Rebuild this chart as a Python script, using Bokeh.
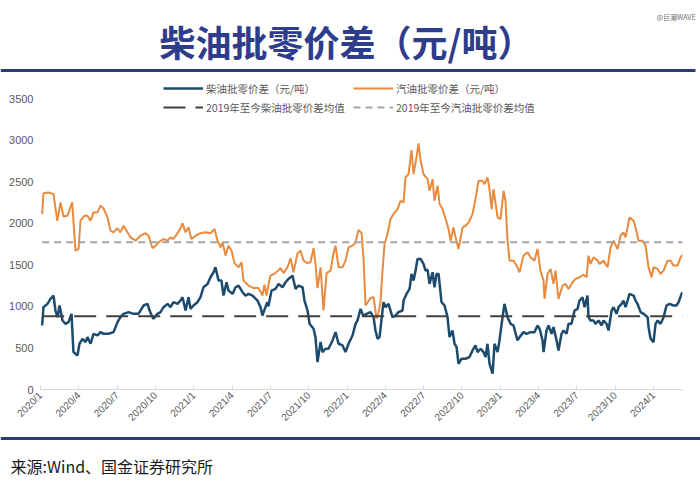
import math
from bokeh.plotting import figure
from bokeh.models import FixedTicker, Legend, LegendItem, Range1d
from bokeh.layouts import column
from bokeh.embed import file_html
from bokeh.resources import INLINE
from bokeh.core.properties import value

TITLE = "柴油批零价差（元/吨）"
SOURCE = "来源:Wind、国金证券研究所"
WATERMARK = "@巨潮WAVE"

tick_months = [0, 3, 6, 9, 12, 15, 18, 21, 24, 27, 30, 33, 36, 39, 42, 45, 48]
tick_labels = ["2020/1", "2020/4", "2020/7", "2020/10", "2021/1", "2021/4", "2021/7", "2021/10",
               "2022/1", "2022/4", "2022/7", "2022/10", "2023/1", "2023/4", "2023/7", "2023/10", "2024/1"]
y_ticks = [0, 500, 1000, 1500, 2000, 2500, 3000, 3500]

diesel_name = "柴油批零价差（元/吨）"
gas_name = "汽油批零价差（元/吨）"
diesel_mean_name = "2019年至今柴油批零价差均值"
gas_mean_name = "2019年至今汽油批零价差均值"
diesel_mean = 880
gas_mean = 1770

# time in months since 2020/1
gas_t = [0.13, 0.23, 0.63, 1.02, 1.31, 1.57, 1.80, 2.11, 2.48, 2.74, 2.98, 3.13, 3.45, 3.68, 3.92, 4.15,
         4.46, 4.70, 4.93, 5.25, 5.48, 5.72, 6.03, 6.26, 6.50, 6.81, 7.05, 7.44, 7.83, 8.22, 8.46, 8.77,
         9.01, 9.24, 9.63, 9.95, 10.18, 10.41, 10.73, 10.96, 11.12, 11.36, 11.59, 11.82, 12.14, 12.53,
         12.92, 13.31, 13.63, 13.86, 14.10, 14.25, 14.49, 14.72, 14.96, 15.19, 15.51, 15.74, 15.90, 16.29,
         16.68, 17.07, 17.38, 17.54, 17.70, 17.85, 18.01, 18.40, 18.79, 19.03, 19.34, 19.58, 19.81, 20.13,
         20.36, 20.60, 20.91, 21.14, 21.38, 21.53, 21.69, 21.93, 22.16, 22.40, 22.71, 22.94, 23.10, 23.34,
         23.65, 23.88, 24.12, 24.43, 24.67, 24.90, 25.14, 25.29, 25.45, 25.84, 26.08, 26.31, 26.47, 26.62,
         26.78, 26.94, 27.17, 27.41, 27.64, 27.96, 28.19, 28.43, 28.58, 28.82, 29.05, 29.21, 29.44, 29.60,
         29.76, 29.99, 30.31, 30.46, 30.70, 30.85, 31.09, 31.25, 31.48, 31.72, 31.95, 32.11, 32.34, 32.50,
         32.73, 33.05, 33.28, 33.52, 33.83, 34.06, 34.30, 34.61, 34.77, 35.00, 35.16, 35.32, 35.47, 35.79,
         36.02, 36.26, 36.41, 36.57, 36.73, 37.04, 37.35, 37.51, 37.82, 38.14, 38.37, 38.68, 38.92, 39.15,
         39.39, 39.47, 39.70, 39.94, 40.17, 40.33, 40.56, 40.88, 41.11, 41.35, 41.66, 41.90, 42.21, 42.52,
         42.76, 42.91, 43.07, 43.30, 43.62, 43.77, 44.09, 44.40, 44.64, 44.87, 45.19, 45.42, 45.65, 45.81,
         45.97, 46.12, 46.44, 46.59, 46.83, 47.14, 47.38, 47.61, 47.85, 48.00, 48.32, 48.55, 48.79, 49.10,
         49.33, 49.57, 49.88, 50.12, 50.27]
gas_v = [2110, 2360, 2370, 2350, 2030, 2250, 2080, 2090, 2250, 1670, 1690, 2030, 2090, 2090, 2030, 2130,
         2130, 2210, 2180, 2070, 1910, 1890, 1940, 1890, 1970, 1890, 1830, 1790, 1850, 1880, 1850, 1700,
         1730, 1770, 1810, 1790, 1830, 1810, 1880, 1940, 2000, 1890, 1950, 1810, 1850, 1880,
         1890, 1880, 1930, 1790, 1710, 1770, 1610, 1730, 1670, 1520, 1470, 1530, 1310, 1250,
         1220, 1220, 1130, 1260, 1130, 1260, 1370, 1400, 1460, 1400, 1470, 1580, 1410, 1640,
         1670, 1550, 1520, 1530, 1700, 1520, 1220, 1470, 950, 1400, 1430, 1640, 1730, 1470,
         1470, 1550, 1710, 1730, 1770, 1920, 1880, 1590, 1010, 1100, 1110, 850, 930, 1050,
         1430, 1750, 1870, 2050, 2110, 2170, 2270, 2250, 2550, 2590, 2880, 2590, 2790, 2960,
         2760, 2590, 2530, 2390, 2530, 2270, 2450, 2230, 2170, 2050, 1930, 1790, 1950, 1830,
         1690, 1950, 1970, 2010, 2110, 2290, 2510, 2510, 2470, 2550, 2410, 2170, 2410, 2070,
         2050, 2390, 2270, 1790, 1550, 1550, 1470, 1410, 1610, 1650, 1590, 1550, 1690, 1430,
         1310, 1090, 1390, 1450, 1270, 1430, 1090, 1250, 1270, 1210, 1290, 1330, 1350, 1380,
         1350, 1610, 1510, 1590, 1550, 1510, 1550, 1470, 1710, 1790, 1690, 1850, 1890, 1830,
         1950, 2070, 2030, 1950, 1790, 1790, 1730, 1470, 1350, 1470, 1450, 1390, 1430, 1550,
         1550, 1490, 1490, 1590, 1620]

diesel_t = [0.13, 0.23, 0.55, 0.78, 1.02, 1.17, 1.33, 1.49, 1.72, 1.96, 2.19, 2.43, 2.58, 2.90, 3.05, 3.29,
            3.52, 3.68, 3.92, 4.15, 4.46, 4.70, 4.93, 5.32, 5.72, 6.03, 6.26, 6.50, 6.89, 7.28, 7.67, 8.07,
            8.38, 8.54, 8.77, 8.85, 9.16, 9.40, 9.63, 9.95, 10.18, 10.41, 10.73, 10.96, 11.12, 11.36, 11.59,
            11.75, 11.98, 12.29, 12.53, 12.76, 13.08, 13.31, 13.55, 13.70, 13.94, 14.17, 14.33, 14.57, 14.72,
            15.04, 15.27, 15.51, 15.82, 16.05, 16.29, 16.60, 16.99, 17.23, 17.38, 17.54, 17.76, 17.85, 18.09,
            18.40, 18.64, 18.95, 19.19, 19.42, 19.73, 19.97, 20.20, 20.52, 20.67, 20.91, 21.07, 21.38, 21.53,
            21.69, 21.93, 22.08, 22.32, 22.55, 22.87, 23.10, 23.34, 23.65, 23.88, 24.12, 24.43, 24.67, 24.82,
            25.06, 25.29, 25.53, 25.84, 26.08, 26.23, 26.39, 26.55, 26.78, 26.86, 27.02, 27.25, 27.56, 27.80,
            28.03, 28.35, 28.43, 28.66, 28.90, 29.05, 29.21, 29.37, 29.52, 29.76, 29.99, 30.15, 30.31, 30.46,
            30.70, 30.85, 31.01, 31.17, 31.40, 31.64, 31.87, 32.03, 32.26, 32.42, 32.58, 32.73, 32.97, 33.28,
            33.59, 33.83, 34.06, 34.22, 34.46, 34.69, 34.85, 35.00, 35.16, 35.40, 35.55, 35.79, 35.94, 36.18,
            36.33, 36.57, 36.81, 37.04, 37.35, 37.51, 37.82, 38.06, 38.37, 38.68, 38.92, 39.08, 39.31, 39.39,
            39.62, 39.78, 40.02, 40.17, 40.41, 40.56, 40.80, 40.96, 41.19, 41.35, 41.58, 41.82, 42.05, 42.21,
            42.44, 42.60, 42.83, 42.91, 43.07, 43.30, 43.46, 43.70, 43.93, 44.09, 44.32, 44.48, 44.72, 44.87,
            45.11, 45.26, 45.50, 45.65, 45.81, 45.97, 46.12, 46.44, 46.59, 46.75, 46.99, 47.22, 47.54, 47.61,
            47.77, 48.00, 48.16, 48.32, 48.55, 48.79, 49.02, 49.26, 49.57, 49.80, 49.96, 50.20, 50.27]
diesel_v = [770, 990, 1030, 1090, 1130, 950, 870, 1010, 830, 790, 810, 910, 450, 410, 550, 610,
            570, 630, 550, 670, 650, 690, 670, 670, 690, 810, 870, 910, 930, 910, 910, 1010,
            1030, 950, 870, 850, 910, 930, 990, 1030, 990, 1050, 1030, 1070, 1110, 950, 1110,
            970, 1010, 1050, 1110, 1230, 1270, 1350, 1410, 1470, 1310, 1310, 1130, 1290, 1190,
            1150, 1230, 1250, 1170, 1130, 1150, 1130, 1070, 990, 890, 960, 1050, 1000, 1190,
            1210, 1270, 1230, 1290, 1330, 1370, 1210, 1250, 1230, 1070, 950, 790, 730, 630,
            330, 570, 450, 490, 490, 590, 690, 550, 530, 450, 550, 650, 790, 830,
            970, 880, 910, 930, 870, 710, 610, 630, 950, 1050, 990, 1030, 870, 890,
            930, 950, 1070, 1150, 1210, 1390, 1310, 1430, 1570, 1570, 1510, 1430, 1440, 1270,
            1410, 1230, 1390, 1390, 1050, 1010, 870, 630, 710, 550, 510, 310, 370, 370,
            390, 470, 530, 450, 490, 450, 390, 550, 310, 190, 550, 450, 590, 870,
            1030, 870, 790, 770, 590, 630, 690, 670, 690, 690, 770, 730, 590, 450,
            710, 770, 670, 750, 590, 470, 670, 710, 670, 790, 790, 950, 970, 1070,
            1110, 990, 1130, 870, 830, 830, 790, 830, 770, 830, 790, 710, 950, 990,
            910, 990, 1030, 1070, 990, 1070, 1150, 1130, 1070, 1030, 930, 910, 870, 750,
            610, 570, 790, 830, 790, 870, 1010, 1030, 1010, 1010, 1050, 1150, 1170]

W = 700
CJK = "Noto Sans CJK SC"
RULE_COLOR = "#2B3A78"

# ---------------- header (page y 0..72) ----------------
HDR_H = 72
hdr = figure(width=W, height=HDR_H, x_range=Range1d(0, W), y_range=Range1d(HDR_H, 0),
             output_backend="svg", toolbar_location=None, min_border=0, frame_align=False)
hdr.axis.visible = False
hdr.grid.visible = False
hdr.outline_line_color = None
hdr.text(x=[346], y=[40], text=[TITLE], text_align="center", text_baseline="middle",
         text_font=value(CJK), text_font_size="36px", text_font_style="bold", text_color="#2E3C8C")
hdr.text(x=[695], y=[16], text=[WATERMARK], text_align="right", text_baseline="middle",
         text_font=value(CJK), text_font_size="7px", text_color="#6F6F6F")
hdr.segment(x0=[0], y0=[70], x1=[695], y1=[70], line_color=RULE_COLOR, line_width=3)

# ---------------- chart (page y 72..436) ----------------
CH_H = 364
frame_h = 309
y_top = 3500 * frame_h / 291.0
p = figure(width=W, height=CH_H, x_range=Range1d(0, diesel_t[-1]), y_range=Range1d(0, y_top),
           output_backend="svg", toolbar_location=None, frame_align=False,
           min_border_left=40, min_border_right=18, min_border_top=8, min_border_bottom=47)
p.grid.visible = False
p.outline_line_color = None

r_d = p.line(diesel_t, diesel_v, line_color="#1D4B6E", line_width=2.5)
r_g = p.line(gas_t, gas_v, line_color="#E98A3D", line_width=2)
span_x = [diesel_t[0], diesel_t[-1]]
r_dm = p.line(span_x, [diesel_mean, diesel_mean], line_color="#404040", line_width=2, line_dash="22 10")
r_gm = p.line(span_x, [gas_mean, gas_mean], line_color="#A6A6A6", line_width=2, line_dash="7 5")

p.xaxis.ticker = FixedTicker(ticks=tick_months)
p.xaxis.major_label_overrides = {m: lab for m, lab in zip(tick_months, tick_labels)}
p.xaxis.major_label_orientation = math.pi / 4
p.xaxis.axis_line_color = "#D9D9D9"
p.xaxis.major_tick_line_color = "#D9D9D9"
p.xaxis.major_tick_in = 4
p.xaxis.major_tick_out = 0
p.xaxis.minor_tick_line_color = None
p.xaxis.major_label_text_font = "Liberation Sans"
p.xaxis.major_label_text_font_size = "10px"
p.xaxis.major_label_text_color = "#595959"
p.xaxis.major_label_standoff = 4

p.yaxis.ticker = FixedTicker(ticks=y_ticks)
p.yaxis.axis_line_color = None
p.yaxis.major_tick_line_color = None
p.yaxis.minor_tick_line_color = None
p.yaxis.major_tick_in = 0
p.yaxis.major_tick_out = 0
p.yaxis.major_label_standoff = 7
p.yaxis.major_label_text_font = "Liberation Sans"
p.yaxis.major_label_text_font_size = "11px"
p.yaxis.major_label_text_color = "#595959"

LEG_H = 35


def make_legend(items, x):
    return Legend(items=items, location=(x, frame_h - LEG_H), orientation="vertical",
                  glyph_width=40, glyph_height=12, label_height=16, label_standoff=3,
                  spacing=3, padding=0, margin=0, border_line_color=None,
                  background_fill_alpha=0, label_text_font=CJK, label_text_font_size="10.5px",
                  label_text_color="#595959")


lg1 = make_legend([LegendItem(label=diesel_name, renderers=[r_d]),
                   LegendItem(label=diesel_mean_name, renderers=[r_dm])], 123)
lg2 = make_legend([LegendItem(label=gas_name, renderers=[r_g]),
                   LegendItem(label=gas_mean_name, renderers=[r_gm])], 313)
p.add_layout(lg1)
p.add_layout(lg2)

# ---------------- footer (page y 436..486) ----------------
FT_H = 50
ft = figure(width=W, height=FT_H, x_range=Range1d(0, W), y_range=Range1d(FT_H, 0),
            output_backend="svg", toolbar_location=None, min_border=0, frame_align=False)
ft.axis.visible = False
ft.grid.visible = False
ft.outline_line_color = None
ft.segment(x0=[0], y0=[2], x1=[W], y1=[2], line_color=RULE_COLOR, line_width=3)
ft.text(x=[10], y=[29], text=[SOURCE], text_align="left", text_baseline="middle",
        text_font=value(CJK), text_font_size="16px", text_color="#1A1A1A")

layout = column(hdr, p, ft, spacing=0)
open("out.html", "w").write(file_html(layout, INLINE))
